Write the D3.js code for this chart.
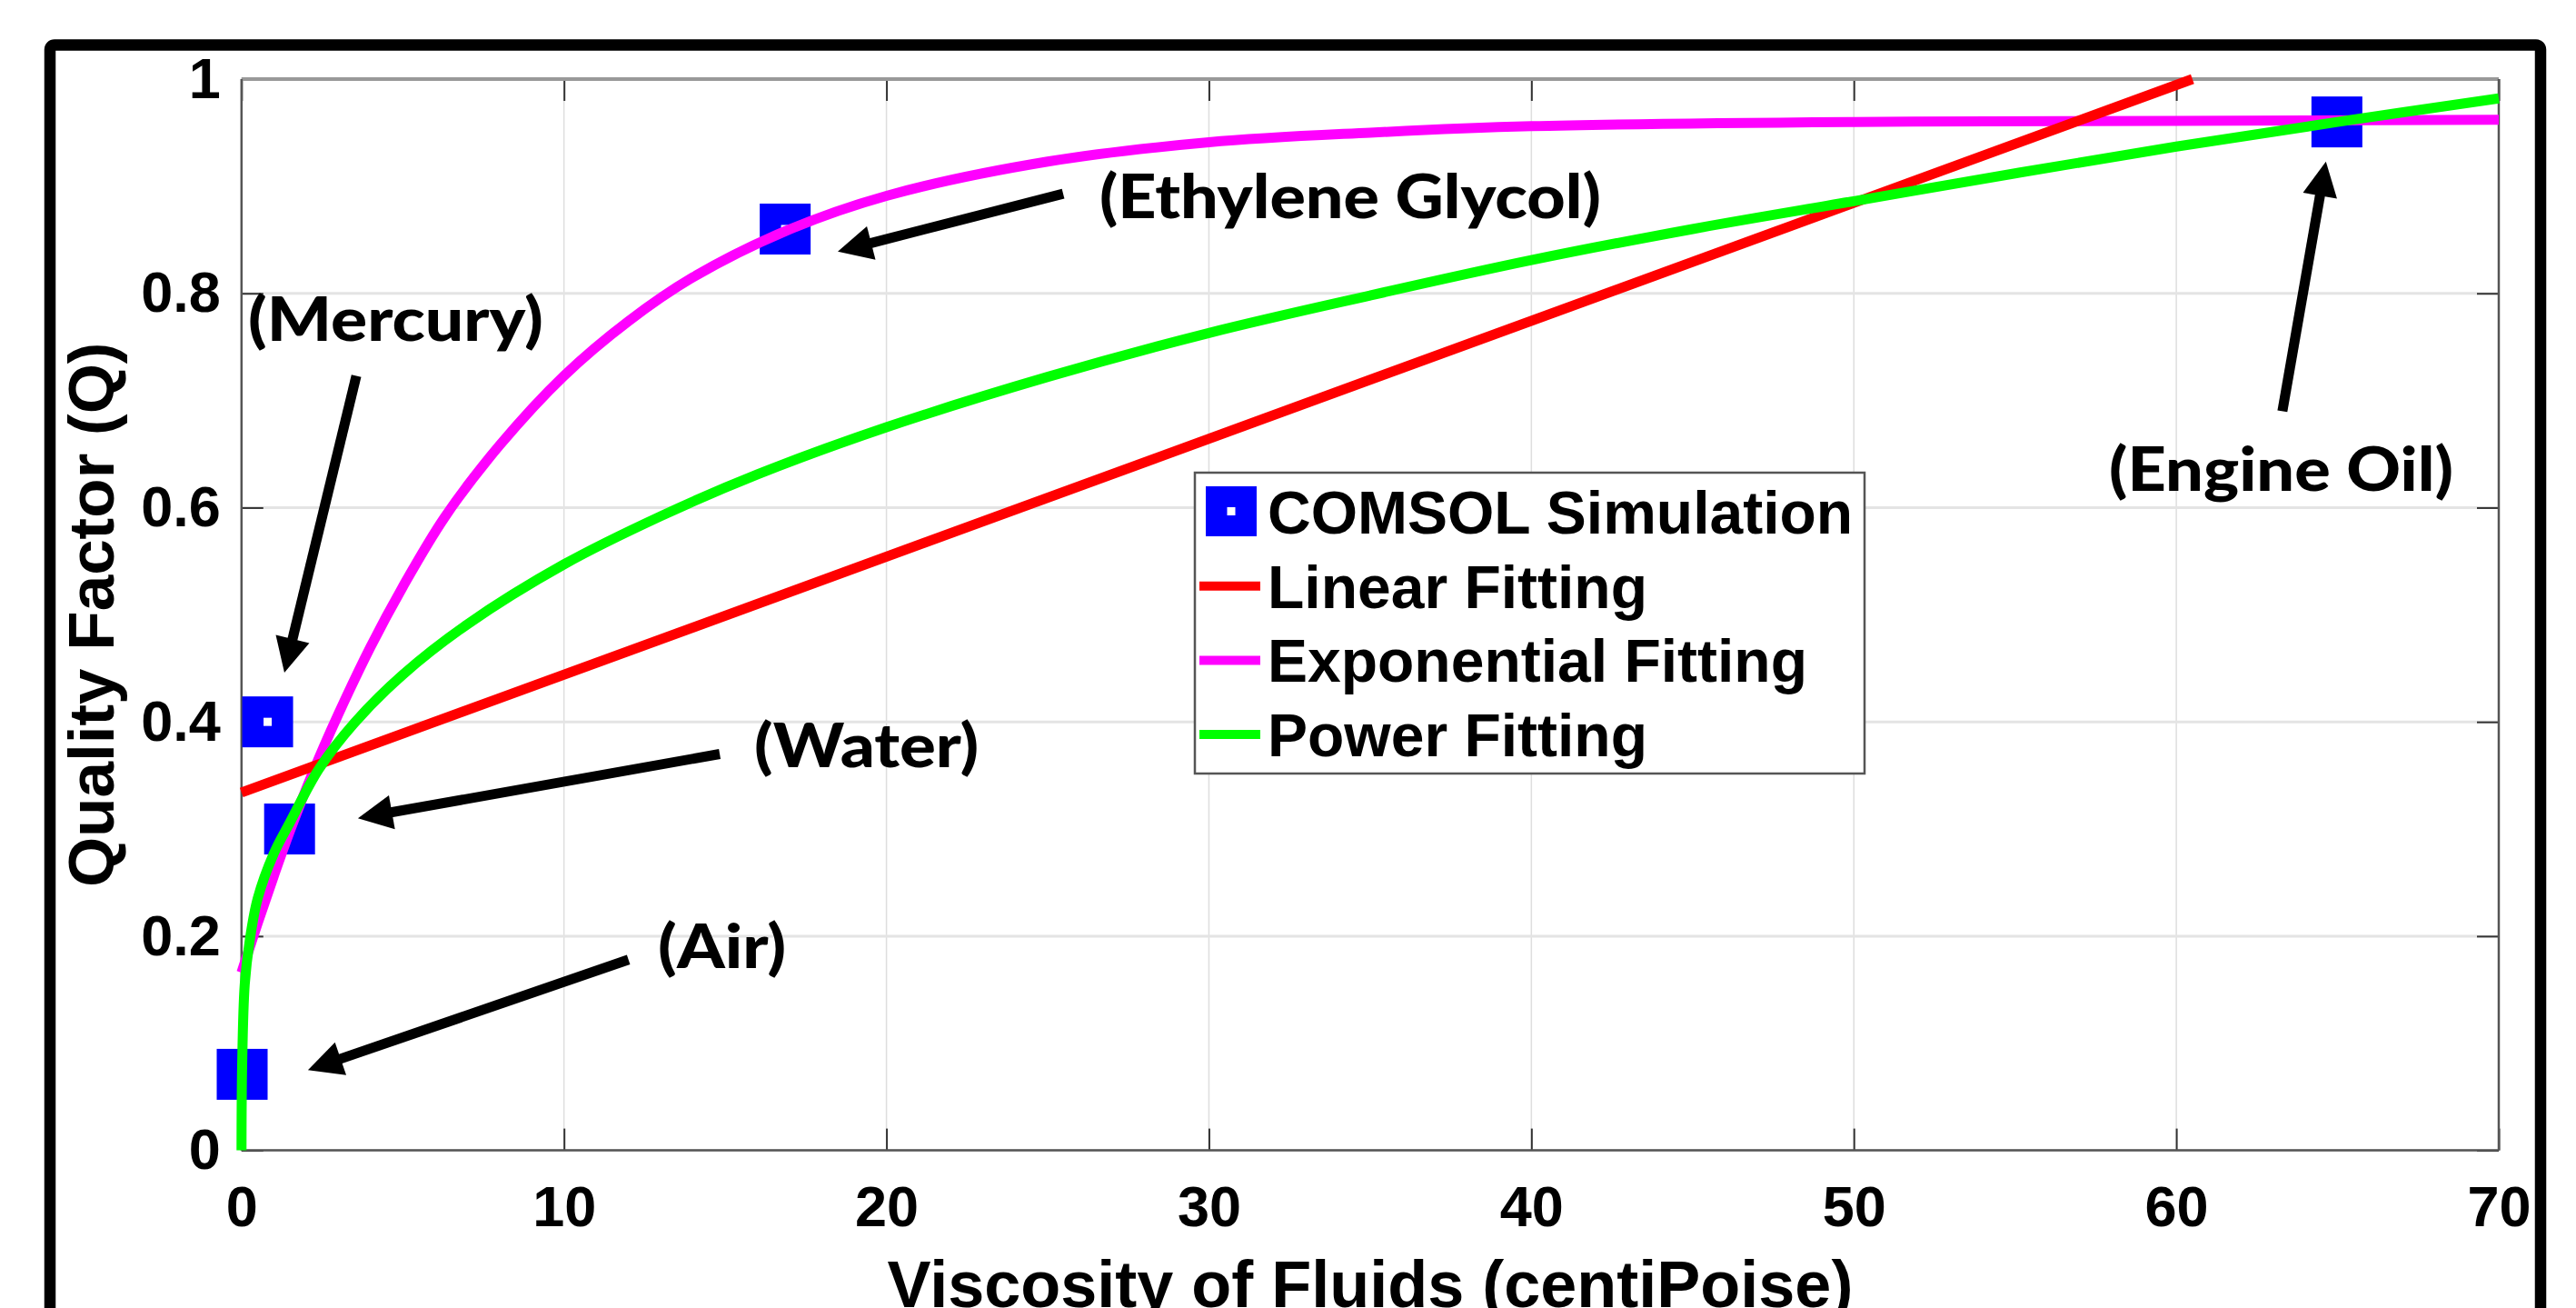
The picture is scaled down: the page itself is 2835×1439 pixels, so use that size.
<!DOCTYPE html>
<html>
<head>
<meta charset="utf-8">
<script src="https://cdn.jsdelivr.net/npm/d3@7"></script>
<style>
  body { margin: 0; background: #fff; }
  text { font-family: "Liberation Sans", Arial, sans-serif; font-weight: bold; fill: #000; }
  .note { font-family: Lato, "Open Sans", sans-serif; font-weight: 900; }
</style>
</head>
<body>
<div id="chart"></div>
<script>
// COMSOL simulation points
const fluids = ["Air", "Mercury", "Water", "Ethylene Glycol", "Engine Oil"];
const viscosity = [0.02, 0.81, 1.49, 16.86, 64.98];
const quality = [0.071, 0.40, 0.30, 0.86, 0.96];

// fitted curves, values
const linearX = [0, 60.5];
const linearQ = [0.334, 1.0];

const expX = [0, 0.5, 1, 1.5, 2.23, 3, 4, 5, 6.3, 8, 10, 12, 14, 16.86, 20, 25, 30, 35, 40, 50, 60, 70];
const expQ = [0.166, 0.212, 0.256, 0.298, 0.354, 0.407, 0.47, 0.526, 0.591, 0.658, 0.723, 0.774, 0.815, 0.858, 0.891, 0.923, 0.941, 0.95, 0.956, 0.96, 0.961, 0.962];

const powX = [0, 0.02, 0.1, 0.25, 0.5, 1, 1.5, 2.4, 3.5, 5, 7, 10, 13, 16, 20, 25, 30, 35, 40, 45, 50, 55, 60, 65, 70];
const powQ = [0, 0.08, 0.155, 0.195, 0.235, 0.277, 0.306, 0.356, 0.399, 0.444, 0.491, 0.547, 0.592, 0.631, 0.675, 0.722, 0.763, 0.798, 0.831, 0.86, 0.886, 0.912, 0.937, 0.96, 0.982];

// axes
const xTicks = [0, 10, 20, 30, 40, 50, 60, 70];
const yTicks = [0, 0.2, 0.4, 0.6, 0.8, 1];
const yTickLabels = ["0", "0.2", "0.4", "0.6", "0.8", "1"];
const xTitle = "Viscosity of Fluids (centiPoise)";
const yTitle = "Quality Factor (Q)";

const legendLabels = ["COMSOL Simulation", "Linear Fitting", "Exponential Fitting", "Power Fitting"];
const colors = { sim: "#0000ff", linear: "#ff0000", exp: "#ff00ff", power: "#00ff00" };

// annotations (data coordinates)
const noteText = ["(Air)", "(Mercury)", "(Water)", "(Ethylene Glycol)", "(Engine Oil)"];
const noteX = [14.9, 4.78, 19.38, 34.38, 63.25];
const noteY = [0.170, 0.756, 0.358, 0.870, 0.616];
const noteWidth = [141, 325, 247, 552, 379];
const arrowFrom = [[12.0, 0.178], [3.56, 0.723], [14.83, 0.370], [25.48, 0.893], [63.29, 0.690]];
const arrowTo = [[2.06, 0.075], [1.33, 0.446], [3.61, 0.310], [18.49, 0.839], [64.64, 0.923]];

const width = 2835, height = 1439;
const plot = { left: 265.8, right: 2750, top: 87, bottom: 1265.6 };

const svg = d3.select("#chart").append("svg")
  .attr("width", width)
  .attr("height", height)
  .style("display", "block")
  .style("background", "#fff");

const x = d3.scaleLinear().domain([0, 70]).range([plot.left, plot.right]);
const y = d3.scaleLinear().domain([0, 1]).range([plot.bottom, plot.top]);

// grid
svg.append("g").selectAll("line").data(xTicks).enter().append("line")
  .attr("x1", d => x(d)).attr("x2", d => x(d))
  .attr("y1", plot.top).attr("y2", plot.bottom)
  .attr("stroke", "#dedede").attr("stroke-width", 1.5);
svg.append("g").selectAll("line").data(yTicks).enter().append("line")
  .attr("x1", plot.left).attr("x2", plot.right)
  .attr("y1", d => y(d)).attr("y2", d => y(d))
  .attr("stroke", "#e4e4e4").attr("stroke-width", 3);

// axes with inward ticks
const tickLen = 24;
svg.append("g")
  .attr("transform", `translate(0,${plot.bottom})`)
  .call(d3.axisBottom(x).tickValues(xTicks).tickSizeInner(-tickLen).tickSizeOuter(0).tickPadding(39).tickFormat(d3.format("d")));
svg.append("g")
  .attr("transform", `translate(${plot.left},0)`)
  .call(d3.axisLeft(y).tickValues(yTicks).tickSizeInner(-tickLen).tickSizeOuter(0).tickPadding(23)
    .tickFormat((d, i) => yTickLabels[i]));
svg.append("g")
  .attr("transform", `translate(0,${plot.top})`)
  .call(d3.axisTop(x).tickValues(xTicks).tickSizeInner(-tickLen).tickSizeOuter(0).tickFormat(""));
svg.append("g")
  .attr("transform", `translate(${plot.right},0)`)
  .call(d3.axisRight(y).tickValues(yTicks).tickSizeInner(-tickLen).tickSizeOuter(0).tickFormat(""));

svg.selectAll(".domain").remove();
svg.selectAll(".tick line").attr("stroke", "#333").attr("stroke-width", 2);
svg.selectAll(".tick text").attr("font-size", 63).attr("font-family", null).attr("font-weight", "bold").attr("fill", "#000");

// axes box
svg.append("line").attr("x1", plot.left).attr("x2", plot.right).attr("y1", plot.top).attr("y2", plot.top)
  .attr("stroke", "#999").attr("stroke-width", 4);
svg.append("line").attr("x1", plot.left).attr("x2", plot.right).attr("y1", plot.bottom).attr("y2", plot.bottom)
  .attr("stroke", "#555").attr("stroke-width", 2.5);
svg.append("line").attr("x1", plot.left).attr("x2", plot.left).attr("y1", plot.top).attr("y2", plot.bottom)
  .attr("stroke", "#555").attr("stroke-width", 2.5);
svg.append("line").attr("x1", plot.right).attr("x2", plot.right).attr("y1", plot.top).attr("y2", plot.bottom)
  .attr("stroke", "#555").attr("stroke-width", 2.5);

// simulation markers
const sim = fluids.map((f, i) => ({ name: f, v: viscosity[i], q: quality[i] }));
const mSize = 56;
const markers = svg.append("g").selectAll("g").data(sim).enter().append("g")
  .attr("transform", d => `translate(${x(d.v)},${y(d.q)})`);
markers.append("rect")
  .attr("x", -mSize / 2).attr("y", -mSize / 2).attr("width", mSize).attr("height", mSize)
  .attr("fill", colors.sim);
markers.append("rect")
  .attr("x", -4.5).attr("y", -4.5).attr("width", 9).attr("height", 9)
  .attr("fill", "#fff");

// fitted curves
const line = d3.line().x(d => x(d[0])).y(d => y(d[1])).curve(d3.curveCatmullRom.alpha(0.5));
const curves = [
  { pts: d3.zip(expX, expQ), color: colors.exp },
  { pts: d3.zip(linearX, linearQ), color: colors.linear },
  { pts: d3.zip(powX, powQ), color: colors.power }
];
svg.append("g").selectAll("path").data(curves).enter().append("path")
  .attr("d", d => line(d.pts))
  .attr("fill", "none")
  .attr("stroke", d => d.color)
  .attr("stroke-width", 11);

// arrows
const headLen = 38, headHalf = 19;
arrowFrom.forEach((from, i) => {
  const p0 = [x(from[0]), y(from[1])];
  const p1 = [x(arrowTo[i][0]), y(arrowTo[i][1])];
  const dx = p1[0] - p0[0], dy = p1[1] - p0[1];
  const len = Math.hypot(dx, dy);
  const ux = dx / len, uy = dy / len;
  const bx = p1[0] - ux * headLen, by = p1[1] - uy * headLen;
  svg.append("line")
    .attr("x1", p0[0]).attr("y1", p0[1])
    .attr("x2", bx + ux * 4).attr("y2", by + uy * 4)
    .attr("stroke", "#000").attr("stroke-width", 11);
  svg.append("path")
    .attr("d", `M${p1[0]},${p1[1]}L${bx - uy * headHalf},${by + ux * headHalf}L${bx + uy * headHalf},${by - ux * headHalf}Z`)
    .attr("fill", "#000");
});

// annotation labels
svg.append("g").selectAll("text").data(noteText).enter().append("text")
  .attr("class", "note")
  .attr("x", (d, i) => x(noteX[i]))
  .attr("y", (d, i) => y(noteY[i]))
  .attr("text-anchor", "middle")
  .attr("font-size", 67)
  .attr("textLength", (d, i) => noteWidth[i])
  .attr("lengthAdjust", "spacingAndGlyphs")
  .text(d => d);

// axis titles
svg.append("text")
  .attr("x", (plot.left + plot.right) / 2)
  .attr("y", 1438)
  .attr("text-anchor", "middle")
  .attr("font-size", 72)
  .text(xTitle);
svg.append("text")
  .attr("transform", `translate(125,${(plot.top + plot.bottom) / 2}) rotate(-90)`)
  .attr("text-anchor", "middle")
  .attr("font-size", 71)
  .text(yTitle);

// legend
const legend = svg.append("g").attr("transform", "translate(1315,520)");
legend.append("rect")
  .attr("width", 737).attr("height", 331)
  .attr("fill", "#fff").attr("stroke", "#555").attr("stroke-width", 2.5);
const rowY = i => 43 + i * 81.7;
legendLabels.forEach((label, i) => {
  const row = legend.append("g").attr("transform", `translate(0,${rowY(i)})`);
  if (i === 0) {
    row.append("rect").attr("x", 12).attr("y", -28).attr("width", 56).attr("height", 55).attr("fill", colors.sim);
    row.append("rect").attr("x", 35.5).attr("y", -5).attr("width", 9).attr("height", 9).attr("fill", "#fff");
  } else {
    const c = [colors.linear, colors.exp, colors.power][i - 1];
    row.append("line").attr("x1", 5).attr("x2", 72).attr("y1", 0).attr("y2", 0)
      .attr("stroke", c).attr("stroke-width", 10);
  }
  row.append("text")
    .attr("x", 80)
    .attr("y", 24)
    .attr("font-size", 66)
    .text(label);
});

// outer black frame
svg.append("rect")
  .attr("x", 55).attr("y", 49.5)
  .attr("width", 2741).attr("height", 1500)
  .attr("rx", 5)
  .attr("fill", "none")
  .attr("stroke", "#000")
  .attr("stroke-width", 12.5);
</script>
</body>
</html>
